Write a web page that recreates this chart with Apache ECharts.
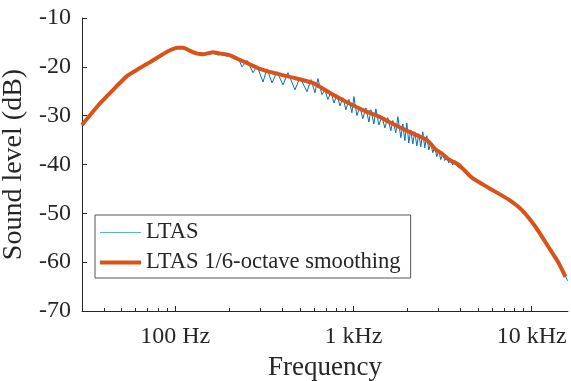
<!DOCTYPE html>
<html><head><meta charset="utf-8">
<script src="https://cdn.jsdelivr.net/npm/echarts@6/dist/echarts.min.js"></script>
<style>html,body{margin:0;padding:0;background:#fff}#c{width:571px;height:381px}</style>
</head><body><div id="c"></div>
<script>
// LTAS (raw) spectrum: frequency (Hz) and level (dB)
const ltasFreq = [30, 38, 54, 72, 90, 103, 111, 125, 138, 150, 163, 175, 185, 195, 205, 214, 225, 237, 253, 273.5, 288, 311, 327.6, 349.5, 372.8, 402.7, 429.5, 470, 501.6, 549, 578, 608.4, 632.4, 666, 692, 719.6, 748, 777.7, 808.4, 840.4, 873.5, 907.8, 943.6, 980.8, 1006.5, 1046, 1087.5, 1130, 1175, 1221.6, 1253.5, 1302.6, 1336.6, 1389.6, 1444.4, 1501.4, 1560.7, 1622.3, 1664.6, 1730.3, 1775.5, 1845.5, 1893.6, 1943, 1993.6, 2045.6, 2099.4, 2154, 2210.5, 2268.3, 2327.6, 2388.4, 2450.7, 2514.9, 2580.6, 2648, 2717.3, 2788.4, 2861.2, 2936, 3013, 3091.5, 3172, 3255, 3340, 3428, 3517, 3609, 3704, 3801, 3899.6, 4002, 4106, 4268, 4495, 4673, 5114, 5817, 6619, 7530, 8906, 10666, 12616, 14353, 15914];
const ltasDb = [-32.1, -27.5, -21.9, -19.1, -17.0, -16.2, -16.2, -16.9, -17.6, -17.5, -17.2, -17.6, -17.3, -17.9, -17.5, -18.4, -18.1, -20.0, -18.7, -21.2, -19.8, -23.1, -20.4, -23.3, -21.0, -23.7, -21.2, -24.7, -22.2, -25.1, -22.6, -25.3, -22.4, -25.7, -24.7, -26.7, -25.1, -27.4, -25.7, -28.0, -26.3, -28.8, -26.7, -29.4, -26.1, -30.0, -28.2, -30.6, -28.4, -31.3, -28.8, -31.7, -28.6, -31.9, -30.2, -32.5, -30.4, -33.1, -31.0, -33.5, -30.2, -34.5, -31.7, -35.1, -31.5, -35.6, -32.9, -35.8, -33.3, -36.2, -33.7, -36.4, -33.3, -36.6, -34.1, -37.0, -35.6, -37.6, -36.4, -38.4, -37.2, -39.0, -37.8, -39.2, -38.4, -39.7, -38.8, -40.1, -39.2, -40.3, -39.9, -40.9, -40.5, -41.3, -42.3, -42.9, -44.0, -45.0, -46.2, -47.4, -49.5, -53.0, -57.1, -60.3, -63.8];

// 1/6-octave smoothed LTAS
const smoothFreq = [30, 38, 46, 54, 63, 72.5, 82, 90, 103, 111, 122, 133, 145, 163, 180, 198, 225, 252, 298, 371, 457, 591, 735, 915, 1123, 1397, 1589, 2055, 2558, 2750, 2910, 3150, 3438, 3912, 4624, 5754, 7441, 8797, 10530, 12440, 14150, 15490];
const smoothDb = [-31.9, -27.4, -24.3, -21.8, -20.3, -19.0, -17.8, -16.9, -16.1, -16.1, -16.8, -17.3, -17.4, -17.0, -17.3, -17.5, -18.4, -19.2, -20.4, -21.4, -22.2, -23.3, -25.3, -27.2, -28.8, -30.2, -31.3, -33.3, -34.9, -36.0, -37.0, -37.8, -39.0, -40.1, -42.7, -44.8, -47.2, -49.3, -52.8, -56.9, -60.1, -63.0];

const seriesNames = ['LTAS', 'LTAS 1/6-octave smoothing'];
const xMajorTicks = [100, 1000, 10000];
const xMajorLabels = ['100 Hz', '1 kHz', '10 kHz'];
const xMinorTicks = [40, 50, 60, 70, 80, 90, 200, 300, 400, 500, 600, 700, 800, 900, 2000, 3000, 4000, 5000, 6000, 7000, 8000, 9000];
const xRange = [30, 16000];
const yRange = [-70, -10];
const yStep = 10;

const FONT = 'Liberation Serif';
const TXT = '#262626';

const chart = echarts.init(document.getElementById('c'), null, {renderer: 'canvas'});
const labelFor = v => {
  for (let i = 0; i < xMajorTicks.length; i++) {
    if (Math.abs(v - xMajorTicks[i]) / xMajorTicks[i] < 1e-6) return xMajorLabels[i];
  }
  return '';
};
chart.setOption({
  animation: false,
  backgroundColor: '#fff',
  grid: {left: 82, right: 3, top: 18, bottom: 70, containLabel: false, outerBoundsMode: 'none'},
  xAxis: [{
    type: 'log', logBase: 10, min: xRange[0], max: xRange[1],
    position: 'bottom',
    name: 'Frequency', nameLocation: 'middle', nameGap: 43,
    nameTextStyle: {fontFamily: FONT, fontSize: 27, color: TXT},
    axisLine: {show: true, lineStyle: {color: TXT, width: 1}},
    axisTick: {show: true, inside: true, length: 5, customValues: xMajorTicks, lineStyle: {color: TXT}},
    axisLabel: {customValues: xMajorTicks, formatter: labelFor, fontFamily: FONT, fontSize: 24, color: TXT, margin: 14},
    splitLine: {show: false}
  }, {
    type: 'log', logBase: 10, min: xRange[0], max: xRange[1],
    position: 'bottom', offset: 0,
    axisLine: {show: false},
    axisTick: {show: true, inside: true, length: 3, customValues: xMinorTicks, lineStyle: {color: TXT}},
    axisLabel: {show: false},
    splitLine: {show: false}
  }],
  yAxis: {
    type: 'value', min: yRange[0], max: yRange[1], interval: yStep,
    name: 'Sound level (dB)', nameLocation: 'middle', nameGap: 39,
    nameTextStyle: {fontFamily: FONT, fontSize: 28, color: TXT},
    axisLine: {show: true, lineStyle: {color: TXT, width: 1}},
    axisTick: {show: true, inside: true, length: 5, lineStyle: {color: TXT}},
    axisLabel: {fontFamily: FONT, fontSize: 24, color: TXT, margin: 11},
    splitLine: {show: false}
  },
  legend: {
    orient: 'vertical', left: 95, top: 215,
    backgroundColor: '#fff', borderColor: '#555', borderWidth: 1,
    padding: [6, 10, 4, 5], itemGap: 7, itemWidth: 41, itemHeight: 14,
    textStyle: {fontFamily: FONT, fontSize: 22.6, color: TXT},
    data: [
      {name: seriesNames[0], icon: 'path://M0,0H41V1H0Z', itemStyle: {color: '#5aaee0'}},
      {name: seriesNames[1], icon: 'path://M0,0H41V4H0Z', itemStyle: {color: '#D95319'}}
    ]
  },
  series: [{
    name: seriesNames[0], type: 'line', xAxisIndex: 0,
    data: ltasFreq.map((f, i) => [f, ltasDb[i]]),
    showSymbol: false, symbol: 'none',
    lineStyle: {color: '#0072BD', width: 1},
    itemStyle: {color: '#0072BD'},
    z: 2
  }, {
    name: seriesNames[1], type: 'line', xAxisIndex: 0,
    data: smoothFreq.map((f, i) => [f, smoothDb[i]]),
    showSymbol: false, symbol: 'none', smooth: 0.2,
    lineStyle: {color: '#D95319', width: 4},
    itemStyle: {color: '#D95319'},
    z: 3
  }]
});
</script></body></html>
